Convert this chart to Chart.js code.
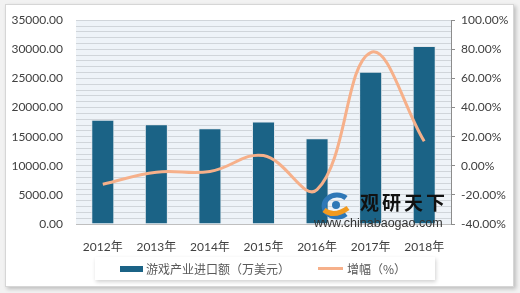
<!DOCTYPE html>
<html>
<head>
<meta charset="utf-8">
<script src="https://cdn.jsdelivr.net/npm/chart.js@4.4.0/dist/chart.umd.min.js"></script>
<style>
    body { margin: 0; background: #f2f2f2; }
    #wrap { position: relative; width: 520px; height: 293px; overflow: hidden; }
    #card {
        position: absolute; left: 5px; top: 4px; width: 507px; height: 281px;
        background: #fff; border: 1px solid #d6d6d6;
        box-shadow: 2px 2px 4px rgba(0, 0, 0, 0.22);
    }
    #chart { position: absolute; left: 0; top: 0; }
    #legend {
        position: absolute; left: 95px; top: 257px; width: 340px; height: 23px;
        background: #fff; box-shadow: 1px 2px 4px rgba(0, 0, 0, 0.18);
        font: 12px "Noto Sans CJK SC", sans-serif; color: #595959;
    }
    .item { position: absolute; top: 4px; line-height: 15px; white-space: nowrap; }
    .sw { position: absolute; }
    #mark { position: absolute; left: 314px; top: 190px; pointer-events: none; }
    #mark .cn { position: absolute; left: 46px; top: -2px; font: bold 19px "Noto Sans CJK SC", sans-serif; color: #111; letter-spacing: 3px; white-space: nowrap; }
    #mark .url { position: absolute; left: 0; top: 26px; font: 12.5px "Liberation Sans", sans-serif; color: #333; white-space: nowrap; }
</style>
</head>
<body>
<div id="wrap">
    <div id="card"></div>
    <canvas id="chart" width="520" height="293"></canvas>
    <div id="mark">
        <svg width="40" height="30" style="position:absolute;left:2px;top:2px">
            <path d="M30 6 A13 11 0 1 0 30 22" stroke="#2f78b7" stroke-width="5" fill="none"/>
            <path d="M8 18 Q18 26 32 16" stroke="#f29a1e" stroke-width="5" fill="none"/>
            <circle cx="20" cy="13" r="4" fill="#2f78b7"/>
        </svg>
        <div class="cn">观研天下</div>
        <div class="url">www.chinabaogao.com</div>
    </div>
    <div id="legend"></div>
</div>
<script>
const years = ['2012年', '2013年', '2014年', '2015年', '2016年', '2017年', '2018年'];
const importValues = [17920, 17130, 16450, 17600, 14710, 26150, 30550];
const growthRates = [-12.7, -4.4, -4.0, 7.0, -16.4, 77.8, 16.8];
const seriesNames = ['游戏产业进口额（万美元）', '增幅（%）'];

const barColor = '#1b6386';
const lineColor = '#f6b08a';

// light plot background behind the grid
const plotBg = {
    id: 'plotBg',
    beforeDraw(chart) {
        const { ctx, chartArea: a } = chart;
        ctx.save();
        ctx.fillStyle = '#eef3f8';
        ctx.fillRect(a.left, a.top, a.right - a.left, a.bottom - a.top);
        ctx.restore();
    }
};

const font = { family: 'Lato, "Noto Sans CJK SC", sans-serif', size: 12 };

const chart = new Chart(document.getElementById('chart'), {
    data: {
        labels: years,
        datasets: [{
            type: 'line',
            label: seriesNames[1],
            data: growthRates,
            yAxisID: 'y1',
            borderColor: lineColor,
            borderWidth: 3,
            tension: 0.4,
            pointRadius: 0,
            order: 0
        }, {
            type: 'bar',
            label: seriesNames[0],
            data: importValues,
            yAxisID: 'y',
            backgroundColor: barColor,
            borderColor: '#e4e8ec',
            borderWidth: 1,
            categoryPercentage: 1,
            barPercentage: 0.43,
            order: 1
        }]
    },
    options: {
        responsive: false,
        animation: false,
        layout: { padding: { top: 16, left: 0, right: 0, bottom: 0 } },
        plugins: { legend: { display: false }, tooltip: { enabled: false } },
        scales: {
            x: {
                grid: { display: false },
                border: { color: '#bfbfbf' },
                ticks: { font: font, color: '#404040', padding: 8 },
                afterFit(s) { s.height = 69; }
            },
            y: {
                position: 'left',
                min: 0,
                max: 35000,
                grid: { color: '#d0d5da', drawTicks: false },
                border: { display: false },
                ticks: {
                    stepSize: 1000,
                    autoSkip: false,
                    font: font,
                    color: '#404040',
                    padding: 13,
                    callback: v => v % 5000 === 0 ? v.toFixed(2) : ''
                },
                afterFit(s) { s.width = 76; }
            },
            y1: {
                position: 'right',
                min: -40,
                max: 100,
                grid: { drawOnChartArea: false, color: '#8c8c8c', tickLength: 4 },
                border: { color: '#8c8c8c' },
                ticks: {
                    stepSize: 20,
                    font: font,
                    color: '#404040',
                    padding: 6,
                    callback: v => v.toFixed(2) + '%'
                },
                afterFit(s) { s.width = 69; }
            }
        }
    },
    plugins: [plotBg]
});

// html legend built from the datasets
const legend = document.getElementById('legend');
legend.innerHTML =
    '<span class="sw" style="left:25px;top:9px;width:23px;height:6px;background:' + barColor + '"></span>' +
    '<span class="item" style="left:51px">' + seriesNames[0] + '</span>' +
    '<span class="sw" style="left:223px;top:10px;width:25px;height:3px;background:' + lineColor + '"></span>' +
    '<span class="item" style="left:252px">' + seriesNames[1] + '</span>';
</script>
</body>
</html>
